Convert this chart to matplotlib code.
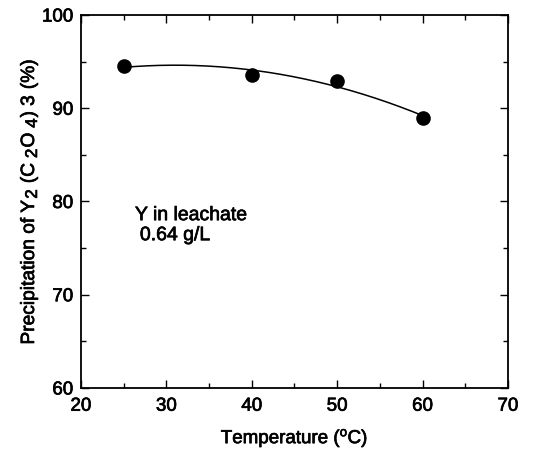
import numpy as np
import matplotlib
matplotlib.use("Agg")
import matplotlib.pyplot as plt
import matplotlib.patheffects as pe
from matplotlib.ticker import MultipleLocator
from matplotlib.transforms import IdentityTransform

plt.rcParams['font.family'] = ['Liberation Sans', 'DejaVu Sans']
plt.rcParams['mathtext.fontset'] = 'custom'
plt.rcParams['mathtext.rm'] = 'Liberation Sans'
plt.rcParams['mathtext.it'] = 'Liberation Sans'

temperature = [25, 40, 50, 60]
precipitation = [94.5, 93.6, 92.9, 89.0]

W, H, DPI = 545, 455, 100
fig = plt.figure(figsize=(W / DPI, H / DPI), dpi=DPI)
ax = fig.add_axes([0.1486, 0.1473, 0.7835, 0.8197])

# slightly heavier glyphs
heavy = [pe.withStroke(linewidth=0.5, foreground='black')]

# quadratic trend through the measurements
coef = np.polyfit(temperature, precipitation, 2)
xs = np.linspace(temperature[0], temperature[-1], 200)
ax.plot(xs, np.polyval(coef, xs), color='black', lw=1.1)
ax.plot(temperature, precipitation, 'o', color='black', ms=9.5)

ax.set_xlim(20, 70)
ax.set_ylim(60, 100)
ax.xaxis.set_major_locator(MultipleLocator(10))
ax.xaxis.set_minor_locator(MultipleLocator(5))
ax.yaxis.set_major_locator(MultipleLocator(10))
ax.yaxis.set_minor_locator(MultipleLocator(5))
ax.tick_params(which='both', direction='in', top=True, right=True, labelsize=13.5, width=1)
ax.tick_params(which='major', length=6)
ax.tick_params(which='minor', length=3.5)
ax.tick_params(axis='x', which='major', pad=7)
ax.tick_params(axis='y', which='major', pad=5.5)
for s in ax.spines.values():
    s.set_linewidth(1.3)
for lbl in ax.get_xticklabels() + ax.get_yticklabels():
    lbl.set_path_effects(heavy)

ax.set_xlabel(r'Temperature ($^{\mathrm{o}}$C)', fontsize=13.5, labelpad=9,
              path_effects=heavy)

# rotated y label assembled piece by piece so subscripts stay large
FS_MAIN, FS_SUB = 13.8, 12.2
pieces = [  # (text, is_subscript, gap before in px)
    ('Precipitation of Y', False, 0),
    ('2', True, 2),
    ('(C', False, 6),
    ('2', True, 5),
    ('O', False, 1),
    ('4', True, 5),
    (')', False, 1),
    ('3', False, 5),
    ('(%)', False, 6),
]
renderer = fig.canvas.get_renderer()
widths = []
for txt, sub, gap in pieces:
    t = fig.text(0, 0, txt, fontsize=FS_SUB if sub else FS_MAIN)
    widths.append(t.get_window_extent(renderer).width)
    t.remove()
total = sum(widths) + sum(p[2] for p in pieces)
base_x = 34.0
y = (H - 202.0) - total / 2
for (txt, sub, gap), w in zip(pieces, widths):
    y += gap
    fig.text(base_x + (3.0 if sub else 0.0), y, txt, fontsize=FS_SUB if sub else FS_MAIN,
             rotation=90, rotation_mode='anchor', ha='left', va='baseline',
             transform=IdentityTransform(), path_effects=heavy)
    y += w

ax.text(26.32, 78.0, 'Y in leachate', fontsize=14, va='baseline', ha='left',
        path_effects=heavy)
ax.text(26.9, 75.85, '0.64 g/L', fontsize=14, va='baseline', ha='left',
        path_effects=heavy)

fig.savefig('out.png', dpi=DPI)
